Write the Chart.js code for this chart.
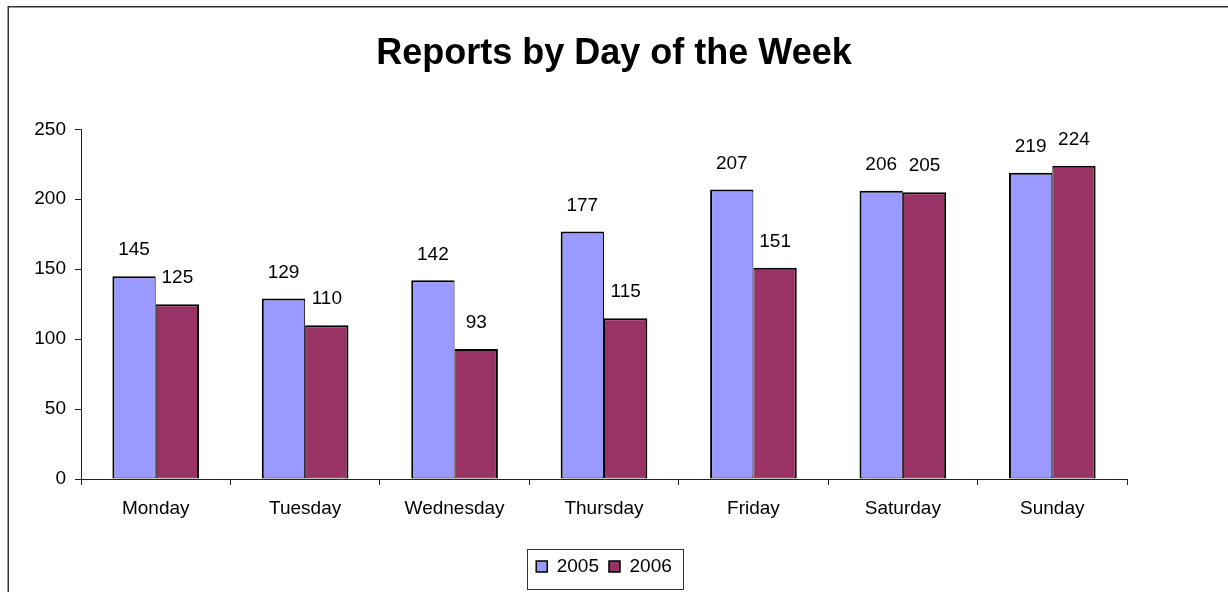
<!DOCTYPE html>
<html><head><meta charset="utf-8">
<script src="https://cdn.jsdelivr.net/npm/chart.js@4/dist/chart.umd.min.js"></script>
<style>html,body{margin:0;padding:0;background:#fff;overflow:hidden}canvas{display:block}</style>
</head><body>
<canvas id="c" width="1228" height="592"></canvas>
<script>
const categories = ['Monday','Tuesday','Wednesday','Thursday','Friday','Saturday','Sunday'];
const seriesNames = ['2005','2006'];
const values2005 = [145,129,142,177,207,206,219];
const values2006 = [125,110,93,115,151,205,224];
const yMin = 0, yMax = 250, yStep = 50;
const titleText = 'Reports by Day of the Week';
const FONT = 'Arial, "Liberation Sans", Helvetica, sans-serif';

const framePlugin = {
  id: 'frame',
  beforeDraw(chart) {
    const ctx = chart.ctx;
    ctx.save();
    ctx.fillStyle = '#fff'; ctx.fillRect(0,0,chart.width,chart.height);
    ctx.strokeStyle = '#333'; ctx.lineWidth = 1.5;
    ctx.strokeRect(8.25, 6.75, 3000, 3000);
    ctx.restore();
  }
};
const valueLabels = {
  id: 'valueLabels',
  afterDatasetsDraw(chart) {
    const ctx = chart.ctx;
    ctx.save();
    ctx.font = '19px ' + FONT;
    ctx.fillStyle = '#000';
    ctx.textAlign = 'center';
    ctx.textBaseline = 'middle';
    chart.data.datasets.forEach((ds, i) => {
      chart.getDatasetMeta(i).data.forEach((el, j) => {
        ctx.fillText(String(ds.data[j]), el.x, el.y - 26);
      });
    });
    ctx.restore();
  }
};
const legendBox = {
  id: 'legendBox',
  afterDraw(chart) {
    const hb = chart.legend && chart.legend.legendHitBoxes;
    if (!hb || !hb.length) return;
    let l = Infinity, r = -Infinity, t = Infinity, b = -Infinity;
    hb.forEach(h => { l = Math.min(l,h.left); r = Math.max(r,h.left+h.width); t = Math.min(t,h.top); b = Math.max(b,h.top+h.height); });
    const cy = (t + b) / 2 + 2;
    const ctx = chart.ctx;
    ctx.save();
    ctx.strokeStyle = '#333'; ctx.lineWidth = 1;
    ctx.strokeRect(Math.round(l - 9) + 0.5, Math.round(cy - 20) + 0.5, Math.round(r - l + 20), 40);
    ctx.restore();
  }
};

new Chart(document.getElementById('c'), {
  type: 'bar',
  data: {
    labels: categories,
    datasets: [
      { label: seriesNames[0], data: values2005, backgroundColor: '#9999FF', borderColor: '#000',
        borderWidth: {top: 2, left: 2, right: 1, bottom: 1}, borderSkipped: false },
      { label: seriesNames[1], data: values2006, backgroundColor: '#993366', borderColor: '#000',
        borderWidth: {top: 2, left: 1, right: 2, bottom: 1}, borderSkipped: false }
    ]
  },
  options: {
    responsive: false,
    animation: false,
    events: [],
    layout: { padding: { left: 0, right: 0, top: 0, bottom: 6 } },
    datasets: { bar: { categoryPercentage: 0.58, barPercentage: 1.0 } },
    scales: {
      x: {
        offset: true,
        grid: { offset: true, display: true, drawOnChartArea: false, drawTicks: true, tickLength: 6, color: '#222' },
        border: { display: true, color: '#222', width: 1 },
        ticks: { color: '#000', font: { family: FONT, size: 19 }, padding: 12, maxRotation: 0 },
        afterFit(scale) { scale.height = 68; }
      },
      y: {
        min: yMin, max: yMax,
        grid: { display: true, drawOnChartArea: false, drawTicks: true, tickLength: 6, color: '#222' },
        border: { display: true, color: '#222', width: 1 },
        ticks: { stepSize: yStep, color: '#000', font: { family: FONT, size: 19 }, padding: 9 },
        afterFit(scale) { scale.width = 81; }
      },
      yRightSpace: {
        position: 'right', min: yMin, max: yMax,
        grid: { display: false, drawTicks: false },
        border: { display: false },
        ticks: { display: false },
        afterFit(scale) { scale.width = 101; }
      }
    },
    plugins: {
      title: { display: true, text: titleText, color: '#000',
        font: { family: FONT, size: 36, weight: 'bold', lineHeight: 1.2 },
        padding: { top: 32.5, bottom: 53.6 } },
      legend: { display: true, position: 'bottom', fullSize: false,
        labels: { boxWidth: 11, boxHeight: 11, padding: 10, color: '#000', font: { family: FONT, size: 19 } } },
      tooltip: { enabled: false }
    }
  },
  plugins: [framePlugin, valueLabels, legendBox]
});
</script>
</body></html>
